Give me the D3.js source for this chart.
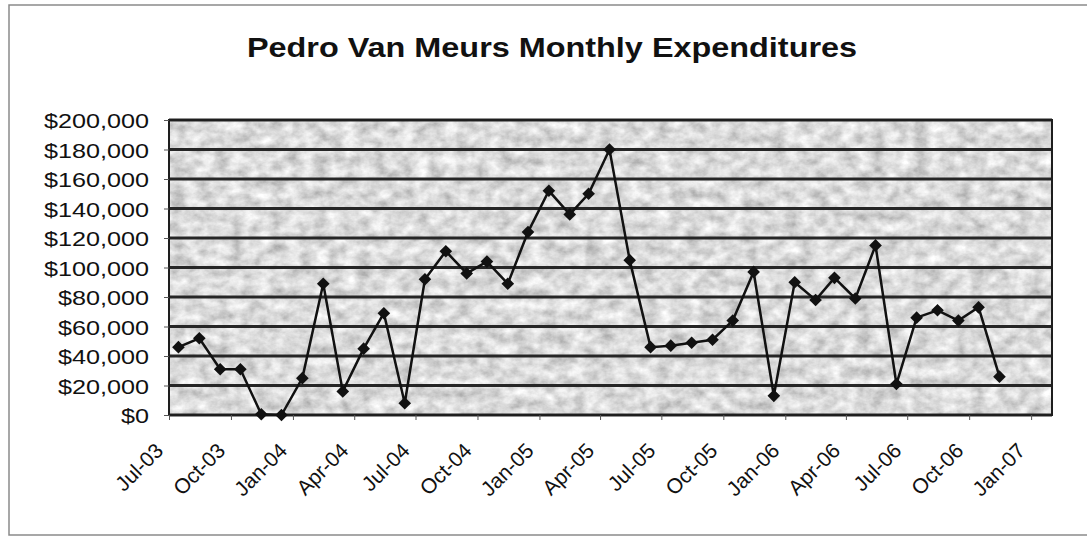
<!DOCTYPE html>
<html>
<head>
<meta charset="utf-8">
<script src="https://cdn.jsdelivr.net/npm/d3@7"></script>
<style>
  body { margin: 0; background: #fff; }
  svg { display: block; }
  text { font-family: "Liberation Sans", Arial, sans-serif; fill: #111; }
</style>
</head>
<body>
<svg id="chart" width="1087" height="537"></svg>
<script>
// monthly expenditures, one point per month (plotted mid-month)
var months = ["2003-07","2003-08","2003-09","2003-10","2003-11","2003-12",
    "2004-01","2004-02","2004-03","2004-04","2004-05","2004-06",
    "2004-07","2004-08","2004-09","2004-10","2004-11","2004-12",
    "2005-01","2005-02","2005-03","2005-04","2005-05","2005-06",
    "2005-07","2005-08","2005-09","2005-10","2005-11","2005-12",
    "2006-01","2006-02","2006-03","2006-04","2006-05","2006-06",
    "2006-07","2006-08","2006-09","2006-10","2006-11"];
var expenditures = [46000, 52000, 31000, 31000, 500, 0,
    25000, 89000, 16000, 45000, 69000, 8000,
    92000, 111000, 96000, 104000, 89000, 124000,
    152000, 136000, 150000, 180000, 105000, 46000,
    47000, 49000, 51000, 64000, 97000, 13000,
    90000, 78000, 93000, 79000, 115000, 21000,
    66000, 71000, 64000, 73000, 26000];
var yTicks = [0, 20000, 40000, 60000, 80000, 100000, 120000, 140000, 160000, 180000, 200000];
var chartTitle = "Pedro Van Meurs Monthly Expenditures";

var parseMonth = d3.timeParse("%Y-%m");
var data = months.map(function(m, i) {
    var d = parseMonth(m);
    d.setDate(15);
    return {date: d, value: expenditures[i]};
});

var svg = d3.select("#chart");
var plotLeft = 169, plotRight = 1052, plotTop = 120, plotBottom = 415;
var stretch = 1.2; // the picture is a little wide

var x = d3.scaleTime()
    .domain([new Date(2003, 6, 1), new Date(2007, 1, 1)])
    .range([plotLeft, plotRight]);
var y = d3.scaleLinear().domain([0, 200000]).range([plotBottom, plotTop]);

// texture for the plot area
var defs = svg.append("defs");
var f = defs.append("filter").attr("id", "marble")
    .attr("x", 0).attr("y", 0).attr("width", "100%").attr("height", "100%");
f.append("feTurbulence").attr("type", "fractalNoise")
    .attr("baseFrequency", "0.07 0.09").attr("numOctaves", 4).attr("seed", 11);
f.append("feColorMatrix").attr("type", "matrix")
    .attr("values", "0.75 0 0 0 0.34  0.75 0 0 0 0.34  0.75 0 0 0 0.34  0 0 0 0 1");

// outer frame
svg.append("path")
    .attr("d", "M1087,5 H9 V535 H1087")
    .attr("fill", "none").attr("stroke", "#8a8a8a").attr("stroke-width", 1.5);

// title
svg.append("text")
    .attr("transform", "translate(552,57) scale(" + stretch + ",1)")
    .attr("text-anchor", "middle")
    .style("font-size", "27px").style("font-weight", "bold")
    .text(chartTitle);

// plot background
svg.append("rect")
    .attr("x", plotLeft).attr("y", plotTop)
    .attr("width", plotRight - plotLeft).attr("height", plotBottom - plotTop)
    .attr("fill", "#b8b8b8")
    .attr("filter", "url(#marble)");

// gridlines
svg.append("g")
    .selectAll("line")
    .data(yTicks)
    .enter().append("line")
    .attr("x1", plotLeft).attr("x2", plotRight)
    .attr("y1", function(d) { return y(d); })
    .attr("y2", function(d) { return y(d); })
    .attr("stroke", "#262626").attr("stroke-width", 2.8);

// plot border
svg.append("rect")
    .attr("x", plotLeft).attr("y", plotTop)
    .attr("width", plotRight - plotLeft).attr("height", plotBottom - plotTop)
    .attr("fill", "none").attr("stroke", "#1e1e1e").attr("stroke-width", 2);

// y axis
var yAxis = svg.append("g")
    .attr("transform", "translate(" + plotLeft + ",0)")
    .call(d3.axisLeft(y).tickValues(yTicks).tickSize(5).tickPadding(0)
        .tickFormat(function(d) { return "$" + d3.format(",")(d); }));
yAxis.select(".domain").remove();
yAxis.selectAll(".tick line").attr("stroke", "#555");
yAxis.selectAll(".tick text")
    .attr("x", null).attr("dy", null)
    .attr("text-anchor", "end")
    .attr("transform", "translate(-20,7.5) scale(" + stretch + ",1)")
    .style("font-size", "21px").style("fill", "#111");

// x axis
var xAxis = svg.append("g")
    .attr("transform", "translate(0," + plotBottom + ")")
    .call(d3.axisBottom(x).ticks(d3.timeMonth.every(3)).tickSize(5)
        .tickFormat(d3.timeFormat("%b-%y")));
xAxis.select(".domain").remove();
xAxis.selectAll(".tick line").attr("stroke", "#555");
xAxis.selectAll(".tick text")
    .attr("y", null).attr("dy", null)
    .attr("text-anchor", "end")
    .attr("transform", "translate(-5,37) rotate(-45)")
    .style("font-size", "21px").style("fill", "#111");

// series line
var line = d3.line()
    .x(function(d) { return x(d.date); })
    .y(function(d) { return y(d.value); });

svg.append("path")
    .datum(data)
    .attr("d", line)
    .attr("fill", "none")
    .attr("stroke", "#111")
    .attr("stroke-width", 2.5);

svg.append("g")
    .selectAll("path")
    .data(data)
    .enter().append("path")
    .attr("d", d3.symbol().type(d3.symbolSquare).size(80))
    .attr("transform", function(d) {
        return "translate(" + x(d.date) + "," + y(d.value) + ") rotate(45)";
    })
    .attr("fill", "#111");
</script>
</body>
</html>
